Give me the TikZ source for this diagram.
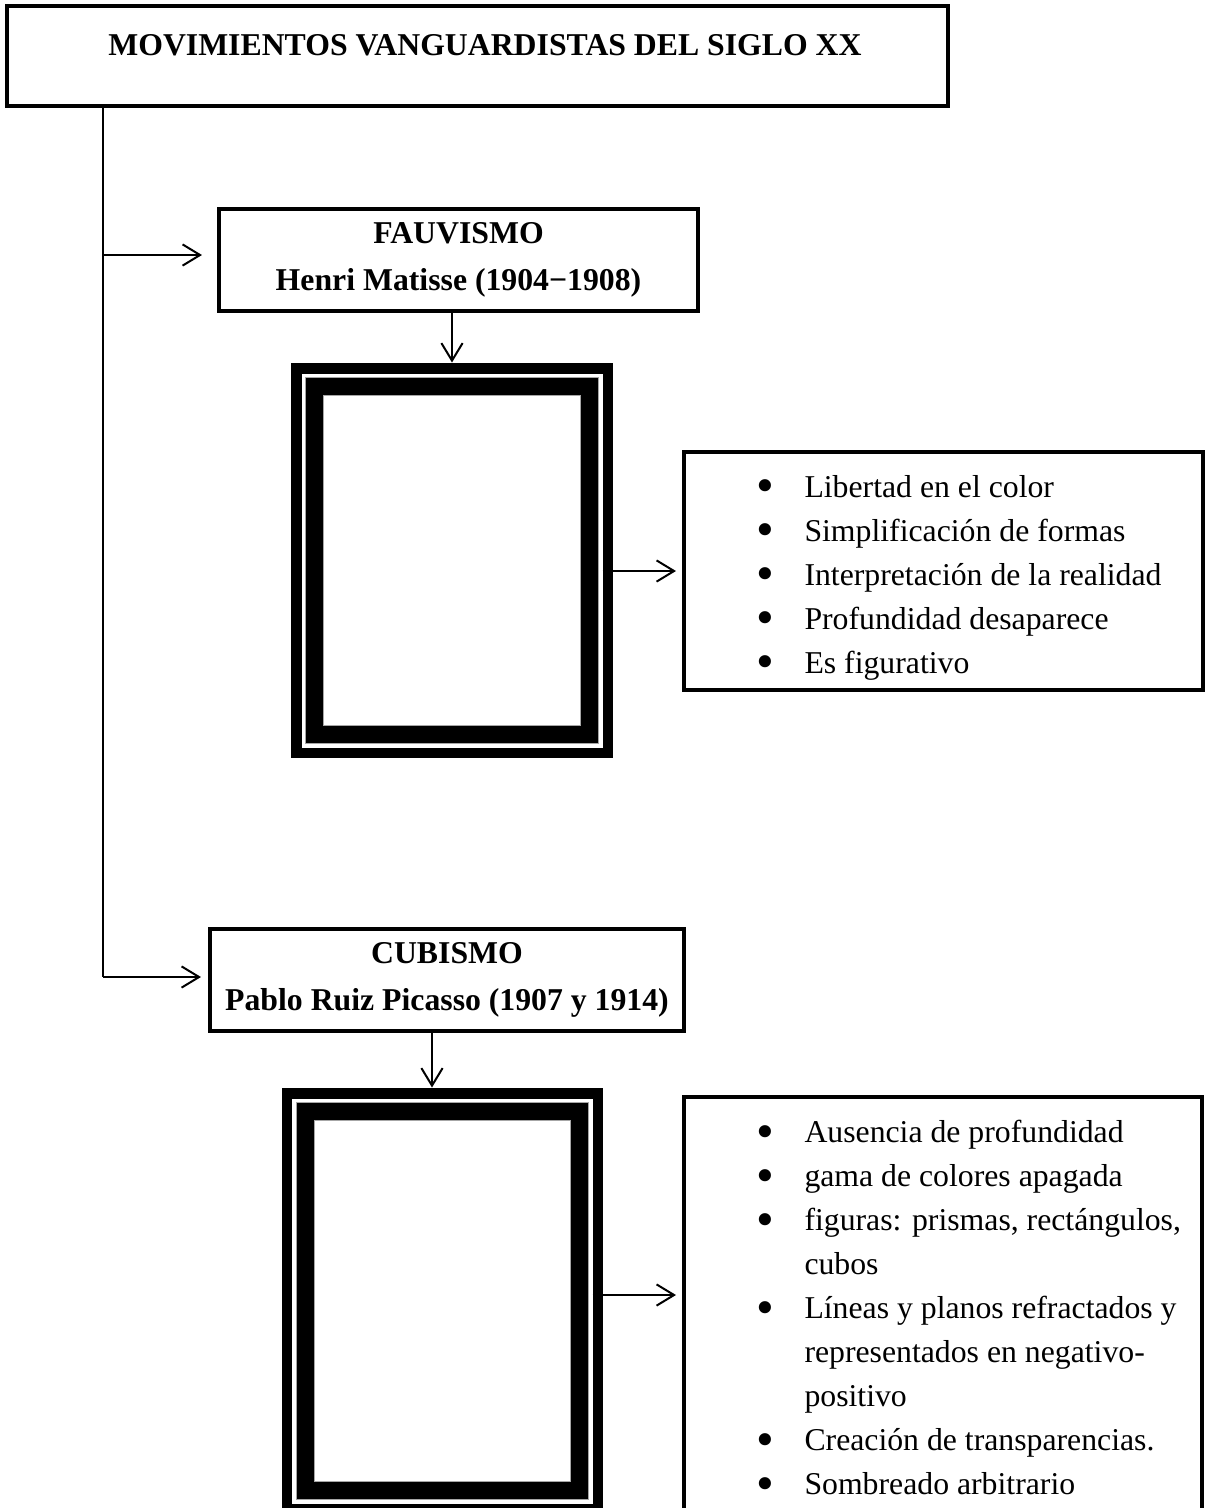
\documentclass[tikz,border=0pt]{standalone}
\usepackage{graphicx}
\usepackage{fontspec}
\setmainfont{Liberation Serif}
\usetikzlibrary{arrows.meta}

\tikzset{
  headbox/.style={draw, line width=1.6pt, align=center, inner sep=0pt,
    font=\fontsize{12.7}{18.8}\selectfont\bfseries},
  listbox/.style={draw, line width=1.6pt, inner sep=0pt},
  listtext/.style={align=left, inner sep=0pt, anchor=north west,
    font=\fontsize{12.7}{17.6}\selectfont},
  frameout/.style={fill=black, inner sep=0pt},
  trunk/.style={line width=0.8pt},
  conn/.style={line width=0.8pt, -{Straight Barb[length=7pt,width=8.5pt]}},
}
\newcommand{\itm}{\makebox[19.2pt][l]{\raisebox{-0.17em}{\scalebox{1.6}{\textbullet}}}}
\newcommand{\cont}{\hspace*{19.2pt}}

\begin{document}
\begin{tikzpicture}[x=0.4pt,y=-0.4pt]
\useasboundingbox (0,0) rectangle (1207,1508);

% title and movements
\node[headbox, minimum width=376.4pt, minimum height=40pt, text depth=8.8pt] (title) at (477.5,56) {\hspace*{6pt}MOVIMIENTOS VANGUARDISTAS DEL SIGLO XX};
\node[headbox, minimum width=191.6pt, minimum height=40.8pt] (fauv) at (458.5,260) {FAUVISMO\\Henri Matisse (1904−1908)};
\node[headbox, minimum width=189.6pt, minimum height=40.8pt] (cub) at (447,980) {CUBISMO\\Pablo Ruiz Picasso (1907 y 1914)};

% picture frames
\node[frameout, minimum width=128.8pt, minimum height=158pt] (frame1) at (452,560.5) {};
\node[frameout, minimum width=128.4pt, minimum height=170.4pt] (frame2) at (442.5,1301) {};
\foreach \f in {frame1,frame2}{
  \fill[white] ([shift={(11,11)}]\f.north west) rectangle ([shift={(-11,-11)}]\f.south east);
  \filldraw[draw=gray!70, line width=0.3pt] ([shift={(15,15)}]\f.north west) rectangle ([shift={(-15,-15)}]\f.south east);
  \filldraw[fill=white, draw=gray!70, line width=0.3pt] ([shift={(33,33)}]\f.north west) rectangle ([shift={(-33,-33)}]\f.south east);
}

% features
\node[listbox, minimum width=207.6pt, minimum height=95.2pt] (list1) at (943.5,571) {};
\node[listbox, minimum width=207.2pt, minimum height=185.2pt] (list2) at (943,1328.5) {};
\node[listtext] (items1) at (756,475) {\itm Libertad en el color\\
  \itm Simplificación de formas\\
  \itm Interpretación de la realidad\\
  \itm Profundidad desaparece\\
  \itm Es figurativo};
\node[listtext] (items2) at (756,1120) {\itm Ausencia de profundidad\\
  \itm gama de colores apagada\\
  \itm figuras: prismas, rectángulos,\\
  \cont cubos\\
  \itm Líneas y planos refractados y\\
  \cont representados en negativo-\\
  \cont positivo\\
  \itm Creación de transparencias.\\
  \itm Sombreado arbitrario};

% connectors
\coordinate (j1) at (103,255);
\coordinate (j2) at (103,977);
\draw[trunk] (title.south -| j1) -- (j2);
\draw[conn, shorten >=6pt] (j1) -- (j1 -| fauv.west);
\draw[conn, shorten >=2.8pt] (j2) -- (j2 -| cub.west);

\draw[conn] (fauv.south -| frame1.north) -- (frame1.north);
\coordinate (c2) at ([xshift=-6pt]cub.south);
\draw[conn] (c2) -- (c2 |- frame2.north);

\coordinate (f1r) at ([xshift=-4.4pt]frame1.east);
\draw[conn, shorten >=2.4pt] (f1r |- list1.west) -- (list1.west);
\coordinate (f2r) at ([xshift=-4.4pt,yshift=2.4pt]frame2.east);
\draw[conn, shorten >=2.4pt] (f2r) -- (f2r -| list2.west);
\end{tikzpicture}
\end{document}
